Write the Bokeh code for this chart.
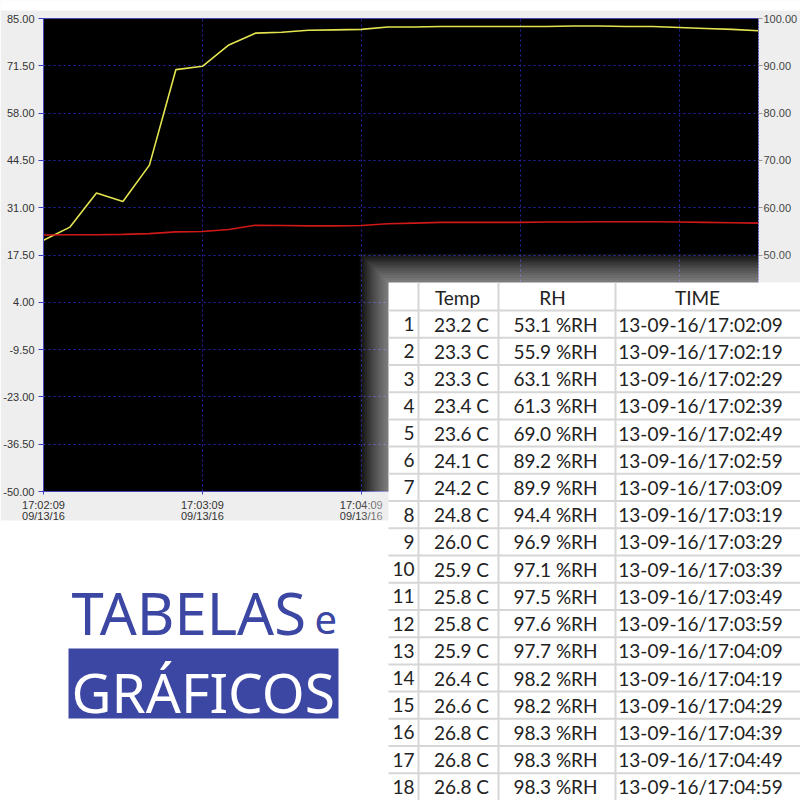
from bokeh.plotting import figure
from bokeh.models import (Range1d, LinearAxis, FixedTicker, NumeralTickFormatter,
                          ColumnDataSource)
from bokeh.core.properties import value
from bokeh.embed import file_html
from bokeh.resources import INLINE

# ---------------- data ----------------
seconds = [0, 10, 20, 30, 40, 50, 60, 70, 80, 90, 100, 110, 120, 130,
           140, 150, 160, 170, 180, 190, 200, 210, 220, 230, 240, 250, 260, 270]
temp_c = [23.2, 23.3, 23.3, 23.4, 23.6, 24.1, 24.2, 24.8, 26.0, 25.9, 25.8, 25.8,
          25.9, 26.4, 26.6, 26.8, 26.8, 26.8,
          26.8, 26.9, 26.9, 27.0, 27.0, 27.0, 26.9, 26.8, 26.7, 26.6]
rh_pct = [53.1, 55.9, 63.1, 61.3, 69.0, 89.2, 89.9, 94.4, 96.9, 97.1, 97.5, 97.6,
          97.7, 98.2, 98.2, 98.3, 98.3, 98.3,
          98.3, 98.3, 98.4, 98.4, 98.3, 98.3, 98.1, 97.9, 97.7, 97.4]

x_tick_seconds = [0, 60, 120, 180, 240]
x_tick_labels = ["17:02:09\n09/13/16", "17:03:09\n09/13/16", "17:04:09\n09/13/16",
                 "17:05:09\n09/13/16", "17:06:09\n09/13/16"]
temp_ticks = [-50, -36.5, -23, -9.5, 4, 17.5, 31, 44.5, 58, 71.5, 85]
rh_ticks = [0, 10, 20, 30, 40, 50, 60, 70, 80, 90, 100]

table_headers = ["Temp", "RH", "TIME"]
table_index = ["1", "2", "3", "4", "5", "6", "7", "8", "9", "10", "11", "12",
               "13", "14", "15", "16", "17", "18"]
table_time = ["13-09-16/17:02:09", "13-09-16/17:02:19", "13-09-16/17:02:29",
              "13-09-16/17:02:39", "13-09-16/17:02:49", "13-09-16/17:02:59",
              "13-09-16/17:03:09", "13-09-16/17:03:19", "13-09-16/17:03:29",
              "13-09-16/17:03:39", "13-09-16/17:03:49", "13-09-16/17:03:59",
              "13-09-16/17:04:09", "13-09-16/17:04:19", "13-09-16/17:04:29",
              "13-09-16/17:04:39", "13-09-16/17:04:49", "13-09-16/17:04:59"]

title_line1 = "TABELAS"
title_small = "e"
title_line2 = "GRÁFICOS"

BLUE = "#3c46a3"
TICK_FONT = "Liberation Sans"

# ---------------- chart (logger window) ----------------
p = figure(width=800, height=524, output_backend="svg", toolbar_location=None, title=None,
           x_range=Range1d(0, 270), y_range=Range1d(-50, 85),
           min_border_left=43, min_border_right=39, min_border_top=18,
           min_border_bottom=33,
           background_fill_color="#000000", border_fill_color="#eeeeee",
           outline_line_color="#4646b4", outline_line_width=1)
p.extra_y_ranges = {"rh": Range1d(0, 100)}

xa = p.xaxis[0]
xa.ticker = FixedTicker(ticks=x_tick_seconds)
xa.major_label_overrides = {s: l for s, l in zip(x_tick_seconds, x_tick_labels)}
xa.minor_tick_line_color = None
xa.major_tick_in = 0
xa.major_tick_out = 3
xa.major_tick_line_color = "#3c3cc8"
xa.axis_line_color = "#4646b4"
xa.major_label_text_font = TICK_FONT
xa.major_label_text_font_size = "11px"
xa.major_label_text_color = "#333333"
xa.major_label_standoff = 4
xa.major_label_text_line_height = 0.95

ya = p.yaxis[0]
ya.ticker = FixedTicker(ticks=temp_ticks)
ya.formatter = NumeralTickFormatter(format="0.00")
ya.minor_tick_line_color = None
ya.major_tick_in = 0
ya.major_tick_out = 5
ya.major_tick_line_color = "#3c3cc8"
ya.axis_line_color = "#4646b4"
ya.major_label_text_font = TICK_FONT
ya.major_label_text_font_size = "11px"
ya.major_label_text_color = "#333333"
ya.major_label_standoff = 4

ra = LinearAxis(y_range_name="rh", ticker=FixedTicker(ticks=rh_ticks),
                formatter=NumeralTickFormatter(format="0.00"))
ra.minor_tick_line_color = None
ra.major_tick_in = 0
ra.major_tick_out = 4
ra.major_tick_line_color = "#999999"
ra.axis_line_color = "#bbbbbb"
ra.axis_line_dash = "1 2"
ra.major_label_text_font = TICK_FONT
ra.major_label_text_font_size = "11px"
ra.major_label_text_color = "#444444"
ra.major_label_standoff = 1
p.add_layout(ra, "right")

p.xgrid.ticker = FixedTicker(ticks=x_tick_seconds)
p.ygrid.ticker = FixedTicker(ticks=temp_ticks)
for g in (p.xgrid[0], p.ygrid[0]):
    g.grid_line_color = "#2424a8"
    g.grid_line_dash = "2 3"
    g.grid_line_width = 1

p.line(seconds, rh_pct, y_range_name="rh", line_color="#e4e450", line_width=1.6)
p.line(seconds, temp_c, line_color="#d01818", line_width=1.6)

# ---------------- overlay (table + title), in page pixel space ----------------
o = figure(width=800, height=800, output_backend="svg", toolbar_location=None, title=None,
           x_range=Range1d(0, 800), y_range=Range1d(800, 0),
           x_axis_type=None, y_axis_type=None, min_border=0,
           background_fill_color=None, border_fill_color=None, outline_line_color=None)
o.styles = {"position": "absolute", "left": "0px", "top": "0px", "z-index": "10"}

# white page around the grey window
o.quad(left=[0, 0], right=[800, 800], top=[0, 520], bottom=[10, 800],
       fill_color="#ffffff", line_color=None)

TL, TT, TR, TB = 388, 282, 800, 800
HEAD_B = 310
ROW_H = (TB - HEAD_B) / 18.0
COL_LINES = [418, 498, 615]

# soft glow around the pasted table
glow_d = [i * 2.4 for i in range(12, 0, -1)]
o.quad(left=[TL - d for d in glow_d], right=[TR + 20] * len(glow_d),
       top=[TT - d for d in glow_d], bottom=[TB + 20] * len(glow_d),
       fill_color="#ffffff", fill_alpha=0.055, line_color=None)

o.quad(left=[TL], right=[TR], top=[TT], bottom=[TB], fill_color="#ffffff", line_color=None)
h_lines = [HEAD_B + k * ROW_H for k in range(18)]
o.segment(x0=[TL] * len(h_lines), x1=[TR] * len(h_lines), y0=h_lines, y1=h_lines,
          line_color="#d6d6d6", line_width=2)
o.segment(x0=COL_LINES, x1=COL_LINES, y0=[TT] * 3, y1=[TB] * 3,
          line_color="#d6d6d6", line_width=2)

n = len(table_index)
row_y = [HEAD_B + (i + 0.5) * ROW_H for i in range(n)]
temp_txt = ["%.1f C" % v for v in temp_c[:n]]
rh_txt = ["%.1f %%RH" % v for v in rh_pct[:n]]

TXT = dict(text_baseline="middle", text_font=value("Lato"), text_font_size=value("19px"),
           text_color="#222222")

for texts, xc, align in [(table_index, 414, "right"), (temp_txt, 461, "center"),
                         (rh_txt, 555, "center"), (table_time, 700, "center")]:
    src = ColumnDataSource(dict(x=[xc] * n, y=row_y, text=texts))
    o.text(x="x", y="y", text="text", source=src, text_align=align, **TXT)

o.text(x=[457, 552, 697], y=[297] * 3, text=table_headers, text_align="center", **TXT)

# title block (text anchored at the middle of the font box: 0.388 em above baseline)
BIG1, BIG2, SMALL = 58, 55, 40
o.text(x=[71], y=[635 - 0.388 * BIG1], text=[title_line1], text_font=value("Noto Sans"),
       text_font_size=value("%dpx" % BIG1), text_color=BLUE, text_baseline="middle")
o.text(x=[314], y=[635 - 0.388 * SMALL], text=[title_small], text_font=value("Noto Sans"),
       text_font_size=value("%dpx" % SMALL), text_color=BLUE, text_baseline="middle")
o.quad(left=[68], right=[338], top=[648], bottom=[718], fill_color=BLUE, line_color=None)
o.text(x=[71], y=[712 - 0.388 * BIG2], text=[title_line2], text_font=value("Noto Sans"),
       text_font_size=value("%dpx" % BIG2), text_color="#ffffff", text_baseline="middle")

open("out.html", "w").write(file_html([p, o], INLINE))
